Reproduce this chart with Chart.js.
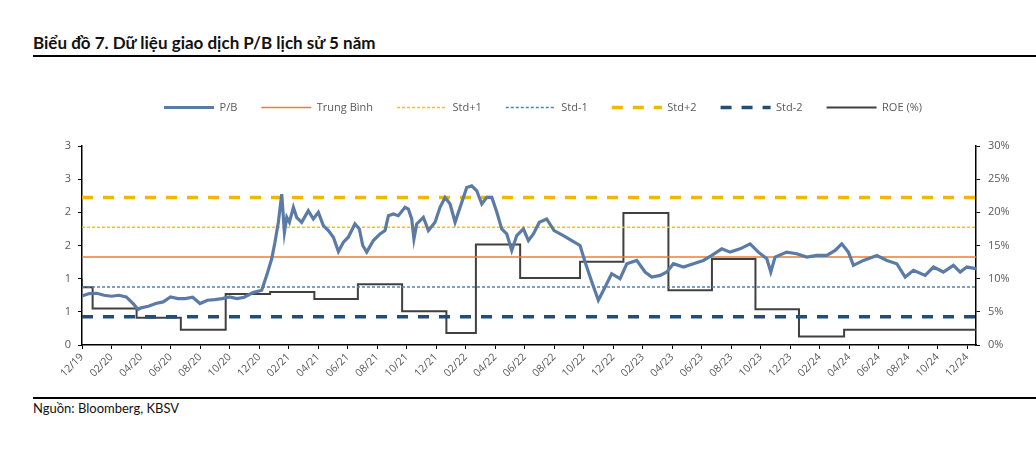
<!DOCTYPE html>
<html lang="vi">
<head>
<meta charset="utf-8">
<title>Biểu đồ 7. Dữ liệu giao dịch P/B lịch sử 5 năm</title>
<script src="https://cdn.jsdelivr.net/npm/chart.js@4.4.0/dist/chart.umd.min.js"></script>
<style>
  html, body { margin: 0; padding: 0; background: #fff; }
  body { width: 1036px; height: 456px; position: relative; overflow: hidden; font-family: Lato, "Noto Sans", sans-serif; }
  .title { position: absolute; left: 33px; top: 32px; font-size: 17px; font-weight: bold; color: #111; }
  .rule-top { position: absolute; left: 33px; right: 0; top: 55px; height: 2px; background: #000; }
  .rule-bottom { position: absolute; left: 33px; right: 0; top: 397px; height: 1.5px; background: #000; }
  .source { position: absolute; left: 33px; top: 400px; font-size: 13px; color: #111; }
  .chart-box { position: absolute; left: 30px; top: 78px; width: 1006px; height: 317px; }
</style>
</head>
<body>
<div class="title">Biểu đồ 7. Dữ liệu giao dịch P/B lịch sử 5 năm</div>
<div class="rule-top"></div>
<div class="chart-box"><canvas id="pb-chart"></canvas></div>
<div class="rule-bottom"></div>
<div class="source">Nguồn: Bloomberg, KBSV</div>

<script>
// x axis: months counted from 12/2019
const xTickLabels = ['12/19', '02/20', '04/20', '06/20', '08/20', '10/20', '12/20',
  '02/21', '04/21', '06/21', '08/21', '10/21', '12/21', '02/22', '04/22', '06/22',
  '08/22', '10/22', '12/22', '02/23', '04/23', '06/23', '08/23', '10/23', '12/23',
  '02/24', '04/24', '06/24', '08/24', '10/24', '12/24'];
const xEnd = 60.6;

// P/B (left axis)
const pbMonths = [0, 0.5, 1, 1.5, 2, 2.5, 3, 3.5, 3.8, 4, 4.5, 5, 5.5, 6, 6.5, 7, 7.5, 8, 8.5, 9,
  9.5, 10, 10.5, 11, 11.6, 12.18, 12.52, 12.86, 13.08, 13.31, 13.54, 13.72, 13.88, 14.06, 14.33,
  14.55, 14.89, 15.34, 15.68, 16.02, 16.36, 16.7, 17.04, 17.38, 17.72, 18.05, 18.5, 18.8, 19.03,
  19.3, 19.75, 20.2, 20.54, 20.77, 21.1, 21.44, 21.9, 22.12, 22.35, 22.5, 22.69, 23.14, 23.48,
  23.93, 24.27, 24.61, 24.95, 25.29, 25.63, 26.08, 26.42, 26.76, 27.1, 27.44, 27.78, 28.12,
  28.45, 28.79, 29.13, 29.47, 29.92, 30.26, 30.6, 31.0, 31.5, 32.0, 32.63, 33.2, 33.76, 34.1,
  34.56, 35.0, 35.46, 35.9, 36.47, 36.93, 37.6, 38.17, 38.62, 39.19, 39.64, 40.09, 40.77, 41.44,
  42.12, 42.69, 43.37, 43.93, 44.61, 45.29, 45.85, 46.42, 46.69, 46.98, 47.77, 48.45, 49.13,
  49.81, 50.49, 51.05, 51.5, 51.95, 52.29, 52.97, 53.88, 54.56, 55.23, 55.8, 56.36, 57.15,
  57.72, 58.39, 59.07, 59.53, 59.98, 60.6];
const pbValues = [0.74, 0.775, 0.78, 0.75, 0.735, 0.75, 0.725, 0.615, 0.535, 0.56, 0.585, 0.625,
  0.65, 0.725, 0.70, 0.70, 0.72, 0.625, 0.675, 0.685, 0.70, 0.725, 0.70, 0.72, 0.79, 0.825,
  1.05, 1.3, 1.55, 1.85, 2.275, 1.70, 1.925, 1.85, 2.075, 1.925, 1.85, 2.025, 1.9, 2.0, 1.8,
  1.725, 1.625, 1.41, 1.55, 1.625, 1.825, 1.75, 1.5, 1.4, 1.575, 1.675, 1.725, 1.95, 1.975,
  1.95, 2.075, 2.05, 1.9, 1.6, 1.825, 1.925, 1.725, 1.85, 2.075, 2.225, 2.125, 1.85, 2.075,
  2.375, 2.4, 2.325, 2.125, 2.225, 2.225, 2.0, 1.75, 1.675, 1.425, 1.65, 1.75, 1.575, 1.675,
  1.85, 1.9, 1.725, 1.65, 1.575, 1.5, 1.25, 0.95, 0.675, 0.875, 1.075, 1.0, 1.225, 1.275, 1.1,
  1.025, 1.05, 1.1, 1.225, 1.175, 1.225, 1.275, 1.35, 1.45, 1.4, 1.45, 1.525, 1.4, 1.3, 1.1,
  1.325, 1.4, 1.375, 1.325, 1.35, 1.35, 1.425, 1.525, 1.4, 1.2, 1.275, 1.35, 1.275, 1.225,
  1.025, 1.125, 1.05, 1.175, 1.1, 1.2, 1.1, 1.175, 1.15];

// Mean and standard deviation bands (left axis)
const pbMean = 1.325;
const pbStdPlus1 = 1.775;
const pbStdMinus1 = 0.875;
const pbStdPlus2 = 2.225;
const pbStdMinus2 = 0.425;

// ROE (%) step line (right axis): month where each level starts
const roeMonths = [0, 0.72, 3.7, 6.7, 9.74, 12.75, 15.75, 18.7, 21.7, 24.7, 26.7, 29.7,
  33.76, 36.7, 39.75, 42.7, 45.65, 48.6, 51.66, 54.6, 60.6];
const roeValues = [10, 8.7, 5.5, 4.1, 2.3, 7.7, 8.0, 6.95, 9.15, 5.1, 1.8, 15.15,
  10.1, 12.55, 19.9, 8.25, 12.95, 5.4, 1.3, 2.3, 2.3];

const flat = (v) => [{ x: 0, y: v }, { x: xEnd, y: v }];
const zip = (xs, ys) => xs.map((x, i) => ({ x: x, y: ys[i] }));

const axisColor = '#000';
const labelColor = '#595959';

// extra room between the legend and the plot
const legendGap = {
  id: 'legendGap',
  beforeInit(chart) {
    const fit = chart.legend.fit;
    chart.legend.fit = function() {
      fit.bind(chart.legend)();
      this.height += 23;
    };
  }
};

const ctx = document.getElementById('pb-chart');
new Chart(ctx, {
  type: 'line',
  data: {
    datasets: [
      { label: 'P/B', data: zip(pbMonths, pbValues), borderColor: '#5b7ba6', borderWidth: 3.2, yAxisID: 'y' },
      { label: 'Trung Bình', data: flat(pbMean), borderColor: '#ed7d31', borderWidth: 1.5, yAxisID: 'y' },
      { label: 'Std+1', data: flat(pbStdPlus1), borderColor: '#ffc000', borderWidth: 1.5, borderDash: [3, 2], yAxisID: 'y' },
      { label: 'Std-1', data: flat(pbStdMinus1), borderColor: '#4a83bd', borderWidth: 1.5, borderDash: [3, 2], yAxisID: 'y' },
      { label: 'Std+2', data: flat(pbStdPlus2), borderColor: '#f2b705', borderWidth: 3.5, borderDash: [11, 10], yAxisID: 'y' },
      { label: 'Std-2', data: flat(pbStdMinus2), borderColor: '#1f4e79', borderWidth: 3.5, borderDash: [11, 10], yAxisID: 'y' },
      { label: 'ROE (%)', data: zip(roeMonths, roeValues), borderColor: '#404040', borderWidth: 2, stepped: 'after', yAxisID: 'y1' }
    ]
  },
  options: {
    responsive: true,
    maintainAspectRatio: false,
    animation: false,
    elements: { point: { radius: 0 }, line: { tension: 0 } },
    layout: { padding: { top: 0, left: 20, right: 0, bottom: 0 } },
    plugins: {
      legend: {
        position: 'top',
        labels: {
          usePointStyle: true,
          pointStyle: 'line',
          pointStyleWidth: 50,
          padding: 24,
          color: labelColor,
          font: { family: 'Open Sans', size: 11 },
          generateLabels(chart) {
            return chart.data.datasets.map((ds, i) => ({
              text: ds.label,
              datasetIndex: i,
              strokeStyle: ds.borderColor,
              fillStyle: ds.borderColor,
              lineWidth: ds.borderWidth,
              lineDash: ds.borderDash || [],
              pointStyle: 'line',
              fontColor: labelColor
            }));
          }
        }
      },
      tooltip: { enabled: false }
    },
    scales: {
      x: {
        type: 'linear',
        min: 0,
        max: xEnd,
        afterBuildTicks: (axis) => { axis.ticks = xTickLabels.map((t, i) => ({ value: i * 2 })); },
        afterFit: (scale) => { scale.height = 50; },
        border: { color: axisColor, width: 1.5 },
        grid: { drawOnChartArea: false, color: axisColor, tickLength: 4 },
        ticks: {
          autoSkip: false,
          minRotation: 45,
          maxRotation: 45,
          color: labelColor,
          font: { family: 'Open Sans', size: 10.5 },
          padding: 2,
          callback: (v) => xTickLabels[Math.round(v / 2)]
        }
      },
      y: {
        position: 'left',
        min: 0,
        max: 3,
        afterFit: (scale) => { scale.width = 32; },
        border: { color: axisColor, width: 1.5 },
        grid: { drawOnChartArea: false, color: axisColor, tickLength: 4 },
        ticks: {
          stepSize: 0.5,
          color: labelColor,
          font: { family: 'Open Sans', size: 11 },
          padding: 7,
          callback: (v) => Math.round(v)
        }
      },
      y1: {
        position: 'right',
        min: 0,
        max: 30,
        afterFit: (scale) => { scale.width = 60; },
        border: { color: axisColor, width: 1.5 },
        grid: { drawOnChartArea: false, color: axisColor, tickLength: 4 },
        ticks: {
          stepSize: 5,
          color: labelColor,
          font: { family: 'Open Sans', size: 11 },
          padding: 8,
          callback: (v) => v + '%'
        }
      }
    }
  },
  plugins: [legendGap]
});
</script>
</body>
</html>
